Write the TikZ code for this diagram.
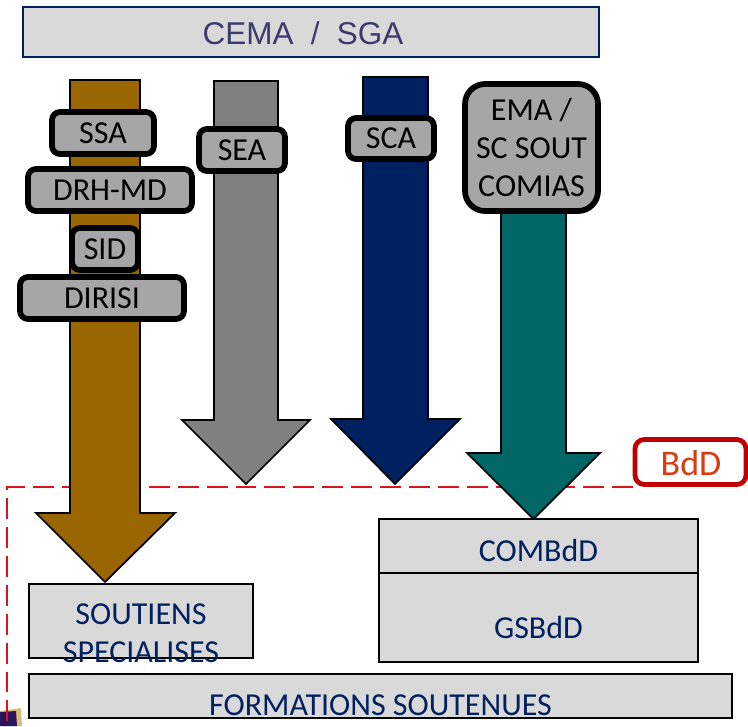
\documentclass[tikz,border=0pt]{standalone}
\usepackage{fontspec}
\setmainfont{Carlito}
\newfontfamily\headfont{Liberation Sans}
\usetikzlibrary{calc}
\definecolor{brownA}{HTML}{996600}
\definecolor{grayA}{HTML}{808080}
\definecolor{navyA}{HTML}{002060}
\definecolor{tealA}{HTML}{006666}
\definecolor{boxgray}{HTML}{D9D9D9}
\definecolor{tag}{HTML}{A6A6A6}
\definecolor{dashred}{HTML}{D9141E}
\definecolor{bddred}{HTML}{C00000}
\definecolor{bddtext}{HTML}{DD3A10}
\definecolor{cematext}{HTML}{3A3A6E}
\definecolor{crestgold}{HTML}{D8BE78}
\definecolor{crestblue}{HTML}{2A1560}
\tikzset{
  x=0.75pt,y=-0.75pt,
  bigarrow/.style={draw=black,line width=1.3pt,line join=miter},
  tagbox/.style={draw=black,fill=tag,line width=4.3pt,rounded corners=6pt,inner sep=0pt,align=center,text=black,font=\fontsize{24}{28}\selectfont},
  panel/.style={draw=black,fill=boxgray,line width=1.5pt,inner sep=0pt,align=center,text=navyA,font=\fontsize{24}{28}\selectfont},
  sized/.style n args={2}{minimum width=#1*0.75pt,minimum height=#2*0.75pt},
}
\begin{document}
\begin{tikzpicture}
\useasboundingbox (0,0) rectangle (748,726);
% header
\node[panel,draw=navyA,sized={576}{50}] (cema) at (311,32) {};
\node[text=cematext,inner sep=0pt,font=\headfont\fontsize{23.6}{28}\selectfont] (cemaTxt) at (303,33) {CEMA\hspace{0.55em}/\hspace{0.55em}SGA};
% dashed frontier
\coordinate (dashEnd) at (7,726);
\coordinate (dashCorner) at (7,487);
% crest
\fill[crestgold] (0,711) -- (21,708) -- (22,726) -- (0,726) -- cycle;
\fill[crestblue] (0,712) -- (16,711) -- (17,726) -- (0,726) -- cycle;
% lower panels
\node[panel,sized={224}{74}] (sout) at (141,621) {};
\node[panel,sized={703}{44}] (form) at (380.5,696) {};
\node[panel,sized={319}{54}] (comb) at (538.5,546) {};
\node[panel,sized={319}{89}] (gsb) at (538.5,617.5) {};
\node[text=navyA,inner sep=0pt,font=\fontsize{24}{28}\selectfont] (combTxt) at (538.5,550) {COMBdD};
\node[text=navyA,inner sep=0pt,font=\fontsize{24}{28}\selectfont] (gsbTxt) at (538.5,627) {GSBdD};
\node[text=navyA,inner sep=0pt,font=\fontsize{24}{28}\selectfont] (soutA) at (141,614) {SOUTIENS};
\node[text=navyA,inner sep=0pt,font=\fontsize{24}{28}\selectfont] (soutB) at (141,652) {SPECIALISES};
\node[text=navyA,font=\fontsize{24}{28}\selectfont,inner sep=0pt] (formTxt) at (380.5,705) {FORMATIONS SOUTENUES};
% BdD tag
\node[draw=bddred,fill=white,line width=3.6pt,rounded corners=7pt,sized={111}{45},inner sep=0pt] (bdd) at (690.5,462) {};
\node[text=bddtext,inner sep=0pt,font=\fontsize{27}{30}\selectfont] (bddTxt) at (691,463) {BdD};
\draw[dashred,line width=2pt,dash pattern=on 15.7pt off 6pt] (bdd.south west |- dashCorner) -- (dashCorner) -- (dashEnd);
% arrows
\draw[bigarrow,fill=brownA] (70,80) -- (140,80) -- (140,513) -- (175,513) -- (105,582) -- (36,513) -- (70,513) -- cycle;
\draw[bigarrow,fill=grayA] (214,81) -- (278,81) -- (278,420) -- (310,420) -- (246,484) -- (182,420) -- (214,420) -- cycle;
\draw[bigarrow,fill=navyA] (363,77) -- (428,77) -- (428,419) -- (460,419) -- (395,484) -- (331,419) -- (363,419) -- cycle;
\draw[bigarrow,fill=tealA] (501,150) -- (566,150) -- (566,453) -- (600,453) -- (533.5,519) -- (467,453) -- (501,453) -- cycle;
% tags
\node[tagbox,sized={102}{42}] (ssa) at (103,133) {\raisebox{-1.5pt}{SSA}};
\node[tagbox,sized={164}{42}] (drh) at (110,190) {\raisebox{-1.5pt}{DRH-MD}};
\node[tagbox,sized={66}{42}] (sid) at (105,249) {\raisebox{-1.5pt}{SID}};
\node[tagbox,sized={164}{42}] (dirisi) at (102,298) {\raisebox{-1.5pt}{DIRISI}};
\node[tagbox,sized={86}{42}] (sea) at (242,150) {\raisebox{-1.5pt}{SEA}};
\node[tagbox,sized={86}{41}] (sca) at (391,138.5) {\raisebox{-1.5pt}{SCA}};
\node[tagbox,rounded corners=15pt,sized={133}{127},font=\fontsize{24}{28.5}\selectfont] (ema) at (531.5,147.5) {EMA /\\SC SOUT\\COMIAS};
\end{tikzpicture}
\end{document}
